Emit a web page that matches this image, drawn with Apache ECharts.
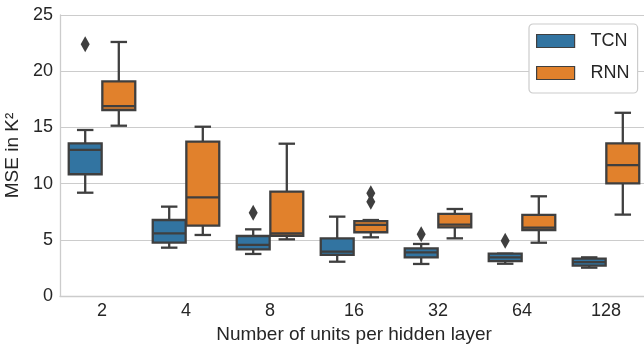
<!DOCTYPE html>
<html>
<head>
<meta charset="utf-8">
<title>MSE per hidden layer size</title>
<script src="https://cdn.jsdelivr.net/npm/echarts@6/dist/echarts.min.js"></script>
<style>
  html, body { margin: 0; padding: 0; background: #ffffff; }
  #chart { width: 644px; height: 350px; }
</style>
</head>
<body>
<div id="chart"></div>
<script>
// Hidden-layer sizes on the x axis
const units = ['2', '4', '8', '16', '32', '64', '128'];

// Box statistics per size: [lower whisker, Q1, median, Q3, upper whisker]
const tcnBoxes = [
  [9.19, 10.83, 13.0, 13.58, 14.77],
  [4.30, 4.75, 5.58, 6.76, 7.95],
  [3.74, 4.15, 4.54, 5.34, 5.93],
  [3.05, 3.65, 3.94, 5.13, 7.06],
  [2.85, 3.44, 3.89, 4.24, 4.63],
  [2.87, 3.11, 3.44, 3.77, 3.77],
  [2.52, 2.70, 3.02, 3.32, 3.44]
];
const rnnBoxes = [
  [15.15, 16.55, 16.9, 19.1, 22.6],
  [5.43, 6.26, 8.78, 13.73, 15.06],
  [5.04, 5.36, 5.58, 9.28, 13.55],
  [5.22, 5.67, 6.32, 6.67, 6.76],
  [5.13, 6.11, 6.35, 7.30, 7.74],
  [4.74, 5.87, 6.08, 7.21, 8.87],
  [7.24, 10.02, 11.65, 13.58, 16.3]
];

// Outliers: [size index, MSE]
const tcnOutliers = [[0, 22.4], [2, 7.41], [4, 5.49], [5, 4.92]];
const rnnOutliers = [[3, 9.14], [3, 8.39]];

const yTicks = { min: 0, max: 25, step: 5 };

const TCN_COLOR = '#3274a1';
const RNN_COLOR = '#e1812c';
const LINE_COLOR = '#3f3f3f';
const TEXT_COLOR = '#262626';
const GRID_COLOR = '#cccccc';
const FONT = '"Liberation Sans", Arial, sans-serif';

// Box glyph drawn from the axis scales; offset is a fraction of the category band
function boxRenderer(offset, fill) {
  return function (params, api) {
    const idx = api.value(0);
    const band = api.size([1, 0])[0];
    const cx = api.coord([idx, 0])[0] + offset * band;
    const boxW = band * 0.392;
    const capW = boxW * 0.5;
    const y = function (dim) { return api.coord([idx, api.value(dim)])[1]; };
    const yLo = y(1), yQ1 = y(2), yMed = y(3), yQ3 = y(4), yHi = y(5);
    const line = { stroke: LINE_COLOR, lineWidth: 2.3 };
    return {
      type: 'group',
      children: [
        { type: 'line', shape: { x1: cx, y1: yQ1, x2: cx, y2: yLo }, style: line },
        { type: 'line', shape: { x1: cx, y1: yQ3, x2: cx, y2: yHi }, style: line },
        { type: 'line', shape: { x1: cx - capW / 2, y1: yLo, x2: cx + capW / 2, y2: yLo }, style: line },
        { type: 'line', shape: { x1: cx - capW / 2, y1: yHi, x2: cx + capW / 2, y2: yHi }, style: line },
        {
          type: 'rect',
          shape: { x: cx - boxW / 2, y: yQ3, width: boxW, height: yQ1 - yQ3 },
          style: { fill: fill, stroke: LINE_COLOR, lineWidth: 2.3 }
        },
        { type: 'line', shape: { x1: cx - boxW / 2, y1: yMed, x2: cx + boxW / 2, y2: yMed }, style: line }
      ]
    };
  };
}

// Thin diamond markers for outliers
function outlierRenderer(offset) {
  return function (params, api) {
    const idx = api.value(0);
    const band = api.size([1, 0])[0];
    const p = api.coord([idx, api.value(1)]);
    const cx = p[0] + offset * band;
    const cy = p[1];
    const hw = 4.5, hh = 8;
    return {
      type: 'polygon',
      shape: { points: [[cx, cy - hh], [cx + hw, cy], [cx, cy + hh], [cx - hw, cy]] },
      style: { fill: LINE_COLOR }
    };
  };
}

function boxData(boxes) {
  return boxes.map(function (b, i) { return [i].concat(b); });
}

const chart = echarts.init(document.getElementById('chart'), null, { renderer: 'canvas' });

chart.setOption({
  animation: false,
  backgroundColor: '#ffffff',
  textStyle: { fontFamily: FONT, color: TEXT_COLOR },
  grid: { left: 60, top: 15, right: -4, bottom: 54, containLabel: false, outerBoundsMode: 'none' },
  legend: {
    orient: 'vertical',
    left: 529,
    top: 24,
    padding: [8, 8, 11, 7],
    itemWidth: 38,
    itemHeight: 13,
    itemGap: 14,
    backgroundColor: '#ffffff',
    borderColor: GRID_COLOR,
    borderWidth: 1.2,
    borderRadius: 4,
    textStyle: { fontFamily: FONT, fontSize: 18, color: TEXT_COLOR, padding: [0, 0, 0, 11] },
    data: [
      { name: 'TCN', icon: 'rect', itemStyle: { color: TCN_COLOR, borderColor: LINE_COLOR, borderWidth: 1.2 } },
      { name: 'RNN', icon: 'rect', itemStyle: { color: RNN_COLOR, borderColor: LINE_COLOR, borderWidth: 1.2 } }
    ]
  },
  xAxis: {
    type: 'category',
    data: units,
    name: 'Number of units per hidden layer',
    nameLocation: 'middle',
    nameGap: 29,
    nameTextStyle: { fontFamily: FONT, fontSize: 19, color: TEXT_COLOR },
    axisLine: { show: true, lineStyle: { color: GRID_COLOR, width: 1.3 } },
    axisTick: { show: false },
    axisLabel: { fontFamily: FONT, fontSize: 18, color: TEXT_COLOR, margin: 6 },
    splitLine: { show: false }
  },
  yAxis: {
    type: 'value',
    min: yTicks.min,
    max: yTicks.max,
    interval: yTicks.step,
    name: 'MSE in K²',
    nameLocation: 'middle',
    nameGap: 33,
    nameTextStyle: { fontFamily: FONT, fontSize: 19, color: TEXT_COLOR },
    axisLine: { show: true, lineStyle: { color: GRID_COLOR, width: 1.3 } },
    axisTick: { show: false },
    axisLabel: { fontFamily: FONT, fontSize: 18, color: TEXT_COLOR, margin: 7 },
    splitLine: { show: true, lineStyle: { color: GRID_COLOR, width: 1.2 } }
  },
  series: [
    {
      name: 'TCN',
      type: 'custom',
      itemStyle: { color: TCN_COLOR },
      renderItem: boxRenderer(-0.2, TCN_COLOR),
      encode: { x: 0, y: [1, 2, 3, 4, 5] },
      data: boxData(tcnBoxes)
    },
    {
      name: 'RNN',
      type: 'custom',
      itemStyle: { color: RNN_COLOR },
      renderItem: boxRenderer(0.2, RNN_COLOR),
      encode: { x: 0, y: [1, 2, 3, 4, 5] },
      data: boxData(rnnBoxes)
    },
    {
      name: 'TCN',
      type: 'custom',
      itemStyle: { color: TCN_COLOR },
      renderItem: outlierRenderer(-0.2),
      encode: { x: 0, y: 1 },
      data: tcnOutliers
    },
    {
      name: 'RNN',
      type: 'custom',
      itemStyle: { color: RNN_COLOR },
      renderItem: outlierRenderer(0.2),
      encode: { x: 0, y: 1 },
      data: rnnOutliers
    }
  ]
});
</script>
</body>
</html>
